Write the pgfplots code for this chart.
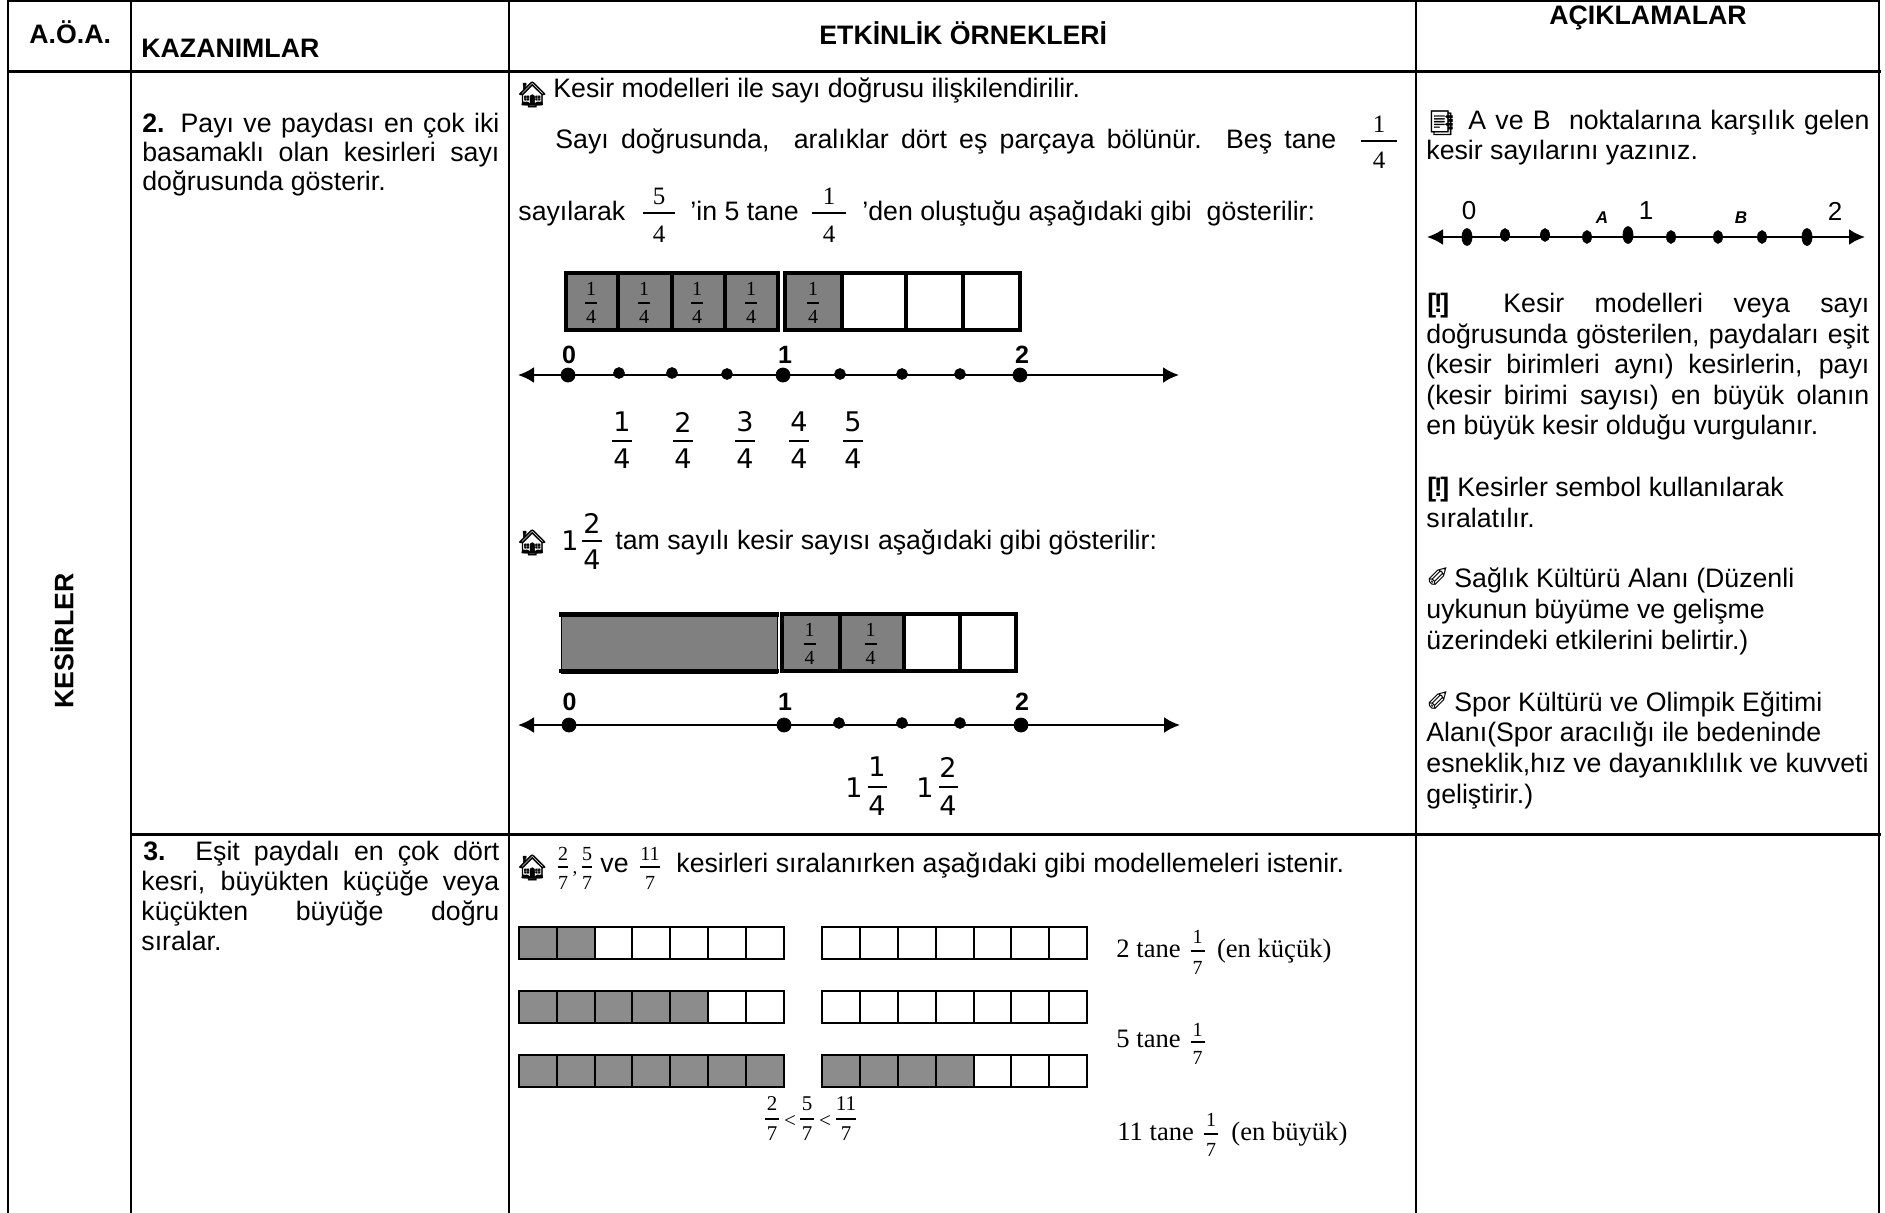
\documentclass[border=0pt]{standalone}
\usepackage{pgfplots}
\pgfplotsset{compat=1.18}
\usepackage{fontspec}
\usetikzlibrary{arrows.meta}
\setmainfont{Liberation Sans}
\newfontfamily\ser{Liberation Serif}
\newfontfamily\djv{DejaVu Sans}
\newfontfamily\emo[FakeBold=1.5]{Noto Emoji}
\definecolor{GA}{RGB}{128,128,128}
\definecolor{GB}{RGB}{140,140,140}
\newlength\pxu \setlength\pxu{.5pt}
\newcommand\fsz[1]{\fontsize{#1}{#1}\selectfont}
\newcommand\body{\fsz{13.35}}
\newcommand\T[3]{\node[anchor=base west,inner sep=0pt,font=\body] at (axis cs:#1,#2) {#3};}
\newcommand\J[4]{\node[anchor=base west,inner sep=0pt,font=\body] at (axis cs:#1,#2) {\makebox[#3\pxu][s]{#4}};}
\newcommand\C[4]{\node[anchor=center,inner sep=0pt,font=#3] at (axis cs:#1,#2) {#4};}
\newcommand\EX{{\bfseries [\kern-1.2pt!\kern-1.2pt]}}
% x, bar y, num y, den y, half width, font, num, den
\newcommand\F[8]{\node[anchor=center,inner sep=0pt,font=#6] at (axis cs:#1,#3) {#7};
 \node[anchor=center,inner sep=0pt,font=#6] at (axis cs:#1,#4) {#8};
 \draw[line width=.65pt] (axis cs:{#1-#5},#2) -- (axis cs:{#1+#5},#2);}
\newcommand\Ln[5]{\addplot[black,line width=#5\pxu,line cap=rect] coordinates {(#1,#2)(#3,#4)};}
\newcommand\Cell[6]{\addplot[draw=black,fill=#5,line width=#6\pxu,line join=miter] coordinates {(#1,#3)(#2,#3)(#2,#4)(#1,#4)} --cycle;}
\newcommand\NL[3]{\addplot[black,line width=1.2pt,{Latex[length=8pt,width=8pt]}-{Latex[length=8pt,width=8pt]}] coordinates {(#1,#3)(#2,#3)};}
\begin{document}
\begin{tikzpicture}
\begin{axis}[scale only axis,width=942.5pt,height=606pt,xmin=0,xmax=1885,ymin=0,ymax=1212,y dir=reverse,hide axis,clip=true]
\path (axis cs:0,0) rectangle (axis cs:1885,1212);
% table rules
\Ln{8}{1}{1879}{1}{2.5}
\Ln{8}{71}{1879}{71}{3}
\Ln{131}{834}{1879}{834}{3}
\Ln{8}{0}{8}{1212}{2.5}
\Ln{131}{0}{131}{1212}{2.5}
\Ln{509}{0}{509}{1212}{2.5}
\Ln{1416}{0}{1416}{1212}{2.5}
\Ln{1879}{0}{1879}{1212}{2.5}
% first model
\Cell{566}{618}{273}{330}{GA}{4.5}
\Cell{618}{672}{273}{330}{GA}{4.5}
\Cell{672}{725}{273}{330}{GA}{4.5}
\Cell{725}{778}{273}{330}{GA}{4.5}
\Cell{785}{842}{273}{330}{GA}{4.5}
\Cell{842}{906}{273}{330}{white}{4.5}
\Cell{906}{963}{273}{330}{white}{4.5}
\Cell{963}{1020}{273}{330}{white}{4.5}
\NL{518}{1179}{375}
\addplot[only marks,mark=*,mark size=3.5pt,black] coordinates {(568,375)(783,375)(1020,375)};
\addplot[only marks,mark=*,mark size=2.7pt,black] coordinates {(619,373)(672,373)(727,374)(840,374)(902,374)(960,374)};
% second model
\Cell{561}{777}{612}{673}{GA}{1}
\Ln{561}{614.5}{777}{614.5}{4.5}
\Ln{561}{671}{777}{671}{4.5}
\Cell{782}{840}{614}{671}{GA}{4.5}
\Cell{840}{904}{614}{671}{GA}{4.5}
\Cell{904}{960}{614}{671}{white}{4.5}
\Cell{960}{1016}{614}{671}{white}{4.5}
\NL{518}{1180}{725}
\addplot[only marks,mark=*,mark size=3.5pt,black] coordinates {(569,725)(784,725)(1021,725)};
\addplot[only marks,mark=*,mark size=2.7pt,black] coordinates {(839,723)(902,723)(960,723)};
% seven-part strips, row 1
\Cell{518.5}{557}{927}{959}{GB}{2}
\Cell{557}{595}{927}{959}{GB}{2}
\Cell{595}{632}{927}{959}{white}{2}
\Cell{632}{670}{927}{959}{white}{2}
\Cell{670}{708}{927}{959}{white}{2}
\Cell{708}{746}{927}{959}{white}{2}
\Cell{746}{784}{927}{959}{white}{2}
\Cell{822}{860}{927}{959}{white}{2}
\Cell{860}{898}{927}{959}{white}{2}
\Cell{898}{936}{927}{959}{white}{2}
\Cell{936}{974}{927}{959}{white}{2}
\Cell{974}{1011}{927}{959}{white}{2}
\Cell{1011}{1049}{927}{959}{white}{2}
\Cell{1049}{1087}{927}{959}{white}{2}
% row 2
\Cell{518.5}{557}{991}{1023}{GB}{2}
\Cell{557}{595}{991}{1023}{GB}{2}
\Cell{595}{632}{991}{1023}{GB}{2}
\Cell{632}{670}{991}{1023}{GB}{2}
\Cell{670}{708}{991}{1023}{GB}{2}
\Cell{708}{746}{991}{1023}{white}{2}
\Cell{746}{784}{991}{1023}{white}{2}
\Cell{822}{860}{991}{1023}{white}{2}
\Cell{860}{898}{991}{1023}{white}{2}
\Cell{898}{936}{991}{1023}{white}{2}
\Cell{936}{974}{991}{1023}{white}{2}
\Cell{974}{1011}{991}{1023}{white}{2}
\Cell{1011}{1049}{991}{1023}{white}{2}
\Cell{1049}{1087}{991}{1023}{white}{2}
% row 3
\Cell{518.5}{557}{1055}{1087}{GB}{2}
\Cell{557}{595}{1055}{1087}{GB}{2}
\Cell{595}{632}{1055}{1087}{GB}{2}
\Cell{632}{670}{1055}{1087}{GB}{2}
\Cell{670}{708}{1055}{1087}{GB}{2}
\Cell{708}{746}{1055}{1087}{GB}{2}
\Cell{746}{784}{1055}{1087}{GB}{2}
\Cell{822}{860}{1055}{1087}{GB}{2}
\Cell{860}{898}{1055}{1087}{GB}{2}
\Cell{898}{936}{1055}{1087}{GB}{2}
\Cell{936}{974}{1055}{1087}{GB}{2}
\Cell{974}{1011}{1055}{1087}{white}{2}
\Cell{1011}{1049}{1055}{1087}{white}{2}
\Cell{1049}{1087}{1055}{1087}{white}{2}
% right column number line
\NL{1427}{1865}{237}
\addplot[only marks,mark=*,mark size=4.2pt,black,mark options={xscale=.6}] coordinates {(1467,237)(1628,235)(1807,237)};
\addplot[only marks,mark=*,mark size=3.2pt,black,mark options={xscale=.7}] coordinates {(1505,235)(1545,235)(1587,237)(1671,237)(1718,237)(1762,237)};
% headers
\T{29}{43}{\bfseries A.Ö.A.}
\T{141}{57}{\bfseries KAZANIMLAR}
\T{819}{44}{\bfseries ETKİNLİK ÖRNEKLERİ}
\T{1549}{24}{\bfseries AÇIKLAMALAR}
\node[rotate=90,anchor=center,inner sep=0pt,font=\body\bfseries] at (axis cs:62,641) {KESİRLER};
% kazanimlar
\J{142}{132}{357}{\textbf{2.} Payı ve paydası en çok iki}
\J{142}{161}{357}{basamaklı olan kesirleri sayı}
\T{142}{190}{doğrusunda gösterir.}
\J{143}{860}{356}{\textbf{3.} Eşit paydalı en çok dört}
\J{141}{890}{358}{kesri, büyükten küçüğe veya}
\J{141}{920}{358}{küçükten büyüğe doğru}
\T{141}{950}{sıralar.}
% etkinlik text
\node[anchor=base west,inner sep=0pt,font=\emo\fsz{12.5}] at (axis cs:516,103) {🏠};
\T{553}{97}{Kesir modelleri ile sayı doğrusu ilişkilendirilir.}
\J{555}{148}{781}{Sayı doğrusunda,\ \ aralıklar dört eş parçaya bölünür. Beş tane}
\F{1379}{141}{124}{160}{18}{\ser\fsz{12.5}}{1}{4}
\T{518}{220}{sayılarak}
\F{659}{213}{196}{234}{16}{\ser\fsz{12.5}}{5}{4}
\T{690}{220}{’in 5 tane}
\F{829}{213}{196}{234}{17}{\ser\fsz{12.5}}{1}{4}
\T{862}{220}{’den oluştuğu aşağıdaki gibi\ \ gösterilir:}
\F{591}{303}{289}{317}{6}{\ser\fsz{10}}{1}{4}
\F{644}{303}{289}{317}{6}{\ser\fsz{10}}{1}{4}
\F{697}{303}{289}{317}{6}{\ser\fsz{10}}{1}{4}
\F{751}{303}{289}{317}{6}{\ser\fsz{10}}{1}{4}
\F{813}{303}{289}{317}{6}{\ser\fsz{10}}{1}{4}
\C{569}{355}{\bfseries\fsz{12.5}}{0}
\C{785}{355}{\bfseries\fsz{12.5}}{1}
\C{1022}{355}{\bfseries\fsz{12.5}}{2}
\F{622}{441}{422}{459}{10}{\djv\fsz{13.5}}{1}{4}
\F{683}{441}{422}{459}{10}{\djv\fsz{13.5}}{2}{4}
\F{745}{441}{422}{459}{10}{\djv\fsz{13.5}}{3}{4}
\F{799}{441}{422}{459}{10}{\djv\fsz{13.5}}{4}{4}
\F{853}{441}{422}{459}{10}{\djv\fsz{13.5}}{5}{4}
\node[anchor=base west,inner sep=0pt,font=\emo\fsz{12.5}] at (axis cs:516,551) {🏠};
\C{570}{541}{\djv\fsz{13.5}}{1}
\F{592}{541}{523}{560}{10}{\djv\fsz{13.5}}{2}{4}
\T{615}{549}{tam sayılı kesir sayısı aşağıdaki gibi gösterilir:}
\F{809.5}{644}{630}{658}{6}{\ser\fsz{10}}{1}{4}
\F{870.5}{644}{630}{658}{6}{\ser\fsz{10}}{1}{4}
\C{569.5}{702}{\bfseries\fsz{12.5}}{0}
\C{785}{702}{\bfseries\fsz{12.5}}{1}
\C{1022}{702}{\bfseries\fsz{12.5}}{2}
\C{854}{788}{\djv\fsz{13.5}}{1}
\F{877}{787}{767}{806}{9.5}{\djv\fsz{13.5}}{1}{4}
\C{925}{788}{\djv\fsz{13.5}}{1}
\F{948}{787}{767}{806}{9.5}{\djv\fsz{13.5}}{2}{4}
% row 3 text
\node[anchor=base west,inner sep=0pt,font=\emo\fsz{12.5}] at (axis cs:516,876) {🏠};
\F{563}{867}{854}{883}{5}{\ser\fsz{10}}{2}{7}
\C{575}{874}{\ser\fsz{9.5}}{,}
\F{587}{867}{854}{883}{5}{\ser\fsz{10}}{5}{7}
\T{600}{872}{ve}
\F{650}{867}{854}{883}{10}{\ser\fsz{10}}{11}{7}
\T{676}{872}{kesirleri sıralanırken aşağıdaki gibi modellemeleri istenir.}
\node[anchor=base west,inner sep=0pt,font=\ser\fsz{13.3}] at (axis cs:1116,957) {2 tane};
\F{1197.5}{951}{937}{968}{7}{\ser\fsz{10}}{1}{7}
\node[anchor=base west,inner sep=0pt,font=\ser\fsz{13.3}] at (axis cs:1216.6,957) {(en küçük)};
\node[anchor=base west,inner sep=0pt,font=\ser\fsz{13.3}] at (axis cs:1116,1047) {5 tane};
\F{1197.5}{1042}{1030}{1058}{7}{\ser\fsz{10}}{1}{7}
\node[anchor=base west,inner sep=0pt,font=\ser\fsz{13.3}] at (axis cs:1117,1140) {11 tane};
\F{1211}{1134}{1120}{1150}{7}{\ser\fsz{10}}{1}{7}
\node[anchor=base west,inner sep=0pt,font=\ser\fsz{13.3}] at (axis cs:1231,1140) {(en büyük)};
\F{772}{1119}{1104}{1134}{7}{\ser\fsz{10.5}}{2}{7}
\C{790}{1121}{\ser\fsz{10.5}}{<}
\F{807}{1119}{1104}{1134}{7}{\ser\fsz{10.5}}{5}{7}
\C{825}{1121}{\ser\fsz{10.5}}{<}
\F{846}{1119}{1104}{1134}{10}{\ser\fsz{10.5}}{11}{7}
% right column
\node[anchor=base west,inner sep=0pt,font=\emo\fsz{12}] at (axis cs:1426,131) {📑};
\J{1468}{129}{401}{A ve B\ \ noktalarına karşılık gelen}
\T{1426}{159}{kesir sayılarını yazınız.}
\C{1469}{211}{\fsz{13}}{0}
\C{1646}{211}{\fsz{13}}{1}
\C{1835}{211}{\fsz{13}}{2}
\C{1602}{218}{\bfseries\itshape\fsz{8.5}}{A}
\C{1741}{218}{\bfseries\itshape\fsz{8.5}}{B}
\T{1427}{312}{\EX}
\J{1503}{312}{366}{Kesir modelleri veya sayı}
\J{1426}{343}{443}{doğrusunda gösterilen, paydaları eşit}
\J{1426}{373}{443}{(kesir birimleri aynı) kesirlerin, payı}
\J{1426}{404}{443}{(kesir birimi sayısı) en büyük olanın}
\T{1426}{434}{en büyük kesir olduğu vurgulanır.}
\T{1427}{496}{\EX}
\T{1457}{496}{Kesirler sembol kullanılarak}
\T{1426}{527}{sıralatılır.}
\node[anchor=base west,inner sep=0pt,font=\djv\fsz{14}] at (axis cs:1426,587) {✐};
\T{1454}{587}{Sağlık Kültürü Alanı (Düzenli}
\T{1426}{618}{uykunun büyüme ve gelişme}
\T{1426}{649}{üzerindeki etkilerini belirtir.)}
\node[anchor=base west,inner sep=0pt,font=\djv\fsz{14}] at (axis cs:1426,711) {✐};
\T{1454}{711}{Spor Kültürü ve Olimpik Eğitimi}
\T{1426}{741}{Alanı(Spor aracılığı ile bedeninde}
\T{1426}{772}{esneklik,hız ve dayanıklılık ve kuvveti}
\T{1426}{803}{geliştirir.)}
\end{axis}
\end{tikzpicture}
\end{document}
